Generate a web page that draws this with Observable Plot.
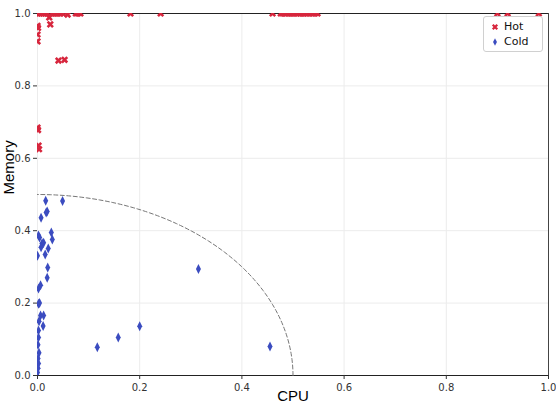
<!DOCTYPE html>
<html>
<head>
<meta charset="utf-8">
<script src="https://cdn.jsdelivr.net/npm/d3@7"></script>
<script src="https://cdn.jsdelivr.net/npm/@observablehq/plot@0.6"></script>
<style>
  html, body { margin: 0; padding: 0; background: #fff; }
  #wrap { position: relative; width: 556px; height: 410px; font-family: "DejaVu Sans", sans-serif; }
  #legend { position: absolute; left: 483px; top: 16px; width: 58px; padding: 2px 0 2px 0;
            border: 1px solid #d0d0d0; border-radius: 3px; background: rgba(255,255,255,0.9);
            font-size: 11px; color: #111; }
  #legend .item { display: flex; align-items: center; height: 15px; }
  #legend svg { margin-left: 6px; margin-right: 4px; }
</style>
</head>
<body>
<div id="wrap"></div>
<script>
// ---------- data ----------
const hotCpu = [0.000, 0.004, 0.008, 0.012, 0.016, 0.020, 0.028, 0.032, 0.036, 0.040, 0.045, 0.050,
  0.075, 0.079, 0.084, 0.182, 0.241, 0.460, 0.476, 0.480, 0.485, 0.490, 0.494, 0.498, 0.502,
  0.507, 0.511, 0.515, 0.520, 0.524, 0.528, 0.533, 0.538, 0.543, 0.548, 0.900, 0.920, 0.981,
  0.023, 0.025, 0.059, 0.000, 0.001, 0.000, 0.000, 0.041, 0.053, 0.000, 0.001, 0.002, 0.003];
const hotMem = [1.000, 1.000, 1.000, 1.000, 1.000, 1.000, 1.000, 1.000, 1.000, 1.000, 1.000, 1.000,
  1.000, 1.000, 1.000, 1.000, 1.000, 1.000, 1.000, 1.000, 1.000, 1.000, 1.000, 1.000, 1.000,
  1.000, 1.000, 1.000, 1.000, 1.000, 1.000, 1.000, 1.000, 1.000, 1.000, 1.000, 1.000, 1.000,
  0.989, 0.970, 0.997, 0.966, 0.960, 0.942, 0.923, 0.870, 0.872, 0.685, 0.678, 0.635, 0.625];

const coldCpu = [0.016, 0.049, 0.019, 0.017, 0.007, 0.002, 0.004, 0.027, 0.029, 0.009, 0.012,
  0.007, 0.021, 0.015, 0.000, 0.020, 0.019, 0.006, 0.002, 0.002, 0.004, 0.006, 0.012, 0.011,
  0.002, 0.002, 0.003, 0.001, 0.002, 0.001, 0.000, 0.001, 0.003, 0.117, 0.158, 0.200, 0.315, 0.455];
const coldMem = [0.483, 0.482, 0.453, 0.450, 0.436, 0.387, 0.381, 0.395, 0.376, 0.365, 0.367,
  0.354, 0.351, 0.334, 0.331, 0.298, 0.270, 0.249, 0.240, 0.198, 0.200, 0.166, 0.166, 0.137,
  0.124, 0.105, 0.063, 0.047, 0.033, 0.020, 0.008, 0.085, 0.150, 0.078, 0.105, 0.136, 0.294, 0.080];

const seriesNames = ["Hot", "Cold"];
const seriesColors = ["#d7263d", "#3b4cc0"];
const tickValues = [0, 0.2, 0.4, 0.6, 0.8, 1.0];
const thresholdRadius = 0.5;

// ---------- symbols ----------
const thinDiamond = {
  draw(ctx, size) {
    const r = Math.sqrt(size / Math.PI);
    const w = r * 0.5, h = r;
    ctx.moveTo(0, -h); ctx.lineTo(w, 0); ctx.lineTo(0, h); ctx.lineTo(-w, 0); ctx.closePath();
  }
};
const filledX = {
  draw(ctx, size) {
    const r = Math.sqrt(size / Math.PI);
    const s = r, t = r * 0.34;
    const rot = (x, y, a) => [x * Math.cos(a) - y * Math.sin(a), x * Math.sin(a) + y * Math.cos(a)];
    for (const a of [Math.PI / 4, -Math.PI / 4]) {
      const pts = [[-s, -t], [s, -t], [s, t], [-s, t]].map(([x, y]) => rot(x, y, a));
      ctx.moveTo(pts[0][0], pts[0][1]);
      for (let i = 1; i < 4; i++) ctx.lineTo(pts[i][0], pts[i][1]);
      ctx.closePath();
    }
  }
};

const hot = hotCpu.map((c, i) => ({cpu: c, mem: hotMem[i]}));
const cold = coldCpu.map((c, i) => ({cpu: c, mem: coldMem[i]}));
const arc = d3.range(0, 91).map(deg => ({
  cpu: thresholdRadius * Math.cos(deg * Math.PI / 180),
  mem: thresholdRadius * Math.sin(deg * Math.PI / 180)
}));

const chart = Plot.plot({
  width: 556,
  height: 410,
  marginLeft: 37,
  marginRight: 8,
  marginTop: 13,
  marginBottom: 35,
  style: {fontFamily: "DejaVu Sans, sans-serif", background: "#fff", color: "#333"},
  x: {domain: [0, 1]},
  y: {domain: [0, 1]},
  marks: [
    Plot.gridX(tickValues, {stroke: "#ececec", strokeOpacity: 1}),
    Plot.gridY(tickValues, {stroke: "#ececec", strokeOpacity: 1}),
    Plot.ruleY([0], {stroke: "#222", strokeWidth: 1.2}),
    Plot.ruleY([1], {stroke: "#222", strokeWidth: 1.2}),
    Plot.ruleX([1], {stroke: "#444", strokeWidth: 1}),
    Plot.line(arc, {x: "cpu", y: "mem", stroke: "#777", strokeWidth: 1, strokeDasharray: "4,2.5"}),
    Plot.dot(hot, {x: "cpu", y: "mem", symbol: filledX, r: 3.8, fill: seriesColors[0], stroke: "none", clip: true}),
    Plot.dot(cold, {x: "cpu", y: "mem", symbol: thinDiamond, r: 5, fill: seriesColors[1], stroke: "none", clip: true}),
    Plot.axisX({ticks: tickValues, tickFormat: d3.format(".1f"), tickSize: 4, tickPadding: 4, fontSize: 10, label: null}),
    Plot.axisY({ticks: tickValues, tickFormat: d3.format(".1f"), tickSize: 4, tickPadding: 3, fontSize: 10, label: null}),
    Plot.text(["Memory"], {frameAnchor: "left", dx: -28, rotate: -90, fontSize: 15, fill: "#000", fontFamily: "Liberation Sans, Arial, sans-serif"}),
    Plot.text(["CPU"], {frameAnchor: "bottom", dy: 25, fontSize: 15, fill: "#000", fontFamily: "Liberation Sans, Arial, sans-serif"})
  ]
});

const wrap = document.getElementById("wrap");
wrap.appendChild(chart);

// legend
const legend = document.createElement("div");
legend.id = "legend";
const syms = [filledX, thinDiamond];
const rs = [3.6, 5];
seriesNames.forEach((name, i) => {
  const item = document.createElement("div");
  item.className = "item";
  const svg = d3.create("svg").attr("width", 10).attr("height", 12);
  svg.append("path")
    .attr("transform", "translate(5,6)")
    .attr("d", d3.symbol(syms[i], Math.PI * rs[i] * rs[i] * (i === 0 ? 0.8 : 0.6))())
    .attr("fill", seriesColors[i]);
  item.appendChild(svg.node());
  const span = document.createElement("span");
  span.textContent = name;
  item.appendChild(span);
  legend.appendChild(item);
});
wrap.appendChild(legend);
</script>
</body>
</html>
